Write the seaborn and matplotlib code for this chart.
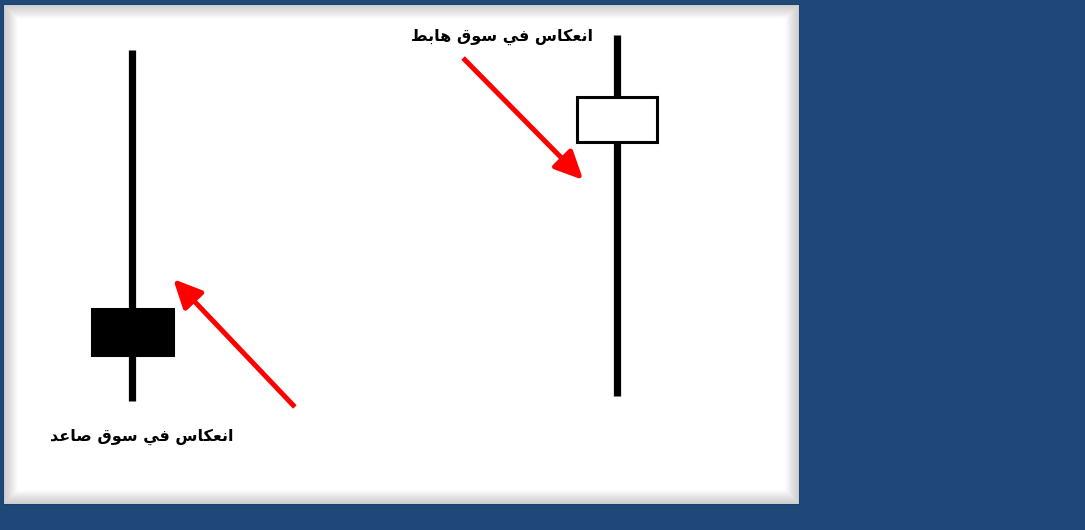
import matplotlib
matplotlib.use("Agg")
import matplotlib.pyplot as plt
import matplotlib.patches as mpatches
import seaborn as sns

# ---- data ----
candles = ["bull_top", "bear_bottom"]
x_pos = [0, 1]
high = [45.4, 46.9]
low = [10.3, 10.8]
open_ = [19.5, 36.2]
close = [14.9, 40.7]

labels = ["انعكاس في سوق صاعد", "انعكاس في سوق هابط"]
label_x = [0.02, 0.763]
label_y = [6.7, 46.7]

arrow_tail_x = [0.335, 0.682]
arrow_tail_y = [9.7, 44.6]
arrow_tip_x = [0.084, 0.930]
arrow_tip_y = [22.5, 32.4]

# ---- simple Arabic shaping (contextual forms + visual order) ----
FORMS = {
    "ا": ("\uFE8D", "\uFE8E", None, None),
    "ب": ("\uFE8F", "\uFE90", "\uFE91", "\uFE92"),
    "د": ("\uFEA9", "\uFEAA", None, None),
    "س": ("\uFEB1", "\uFEB2", "\uFEB3", "\uFEB4"),
    "ص": ("\uFEB9", "\uFEBA", "\uFEBB", "\uFEBC"),
    "ط": ("\uFEC1", "\uFEC2", "\uFEC3", "\uFEC4"),
    "ع": ("\uFEC9", "\uFECA", "\uFECB", "\uFECC"),
    "ف": ("\uFED1", "\uFED2", "\uFED3", "\uFED4"),
    "ق": ("\uFED5", "\uFED6", "\uFED7", "\uFED8"),
    "ك": ("\uFED9", "\uFEDA", "\uFEDB", "\uFEDC"),
    "ن": ("\uFEE5", "\uFEE6", "\uFEE7", "\uFEE8"),
    "ه": ("\uFEE9", "\uFEEA", "\uFEEB", "\uFEEC"),
    "و": ("\uFEED", "\uFEEE", None, None),
    "ي": ("\uFEF1", "\uFEF2", "\uFEF3", "\uFEF4"),
}


def shape(text):
    out = []
    n = len(text)
    for i, ch in enumerate(text):
        if ch not in FORMS:
            out.append(ch)
            continue
        prev = text[i - 1] if i > 0 else None
        nxt = text[i + 1] if i < n - 1 else None
        join_prev = prev in FORMS and FORMS[prev][2] is not None
        join_next = nxt in FORMS and FORMS[ch][2] is not None
        iso, fin, ini, med = FORMS[ch]
        if join_prev and join_next:
            out.append(med)
        elif join_prev:
            out.append(fin)
        elif join_next:
            out.append(ini)
        else:
            out.append(iso)
    return "".join(reversed(out))


# ---- figure ----
sns.set_theme(style="white")
plt.rcParams["font.family"] = ["DejaVu Sans"]

W, H = 1085, 530
fig = plt.figure(figsize=(W / 100, H / 100), dpi=100)
fig.patch.set_facecolor("#1f4878")

px_l, px_t, px_r, px_b = 4, 5, 799, 504
ax = fig.add_axes([px_l / W, (H - px_b) / H, (px_r - px_l) / W, (px_b - px_t) / H])
ax.set_facecolor("white")
ax.set_xlim(-0.265, 1.375)
ax.set_ylim(0, 49.9)
ax.set_xticks([])
ax.set_yticks([])
for s in ax.spines.values():
    s.set_visible(False)

# inner shadow of the white panel
for k in range(14):
    a = 0.11 * (1 - k / 14)
    rect = mpatches.Rectangle((px_l + k, H - px_b + k), (px_r - px_l) - 2 * k, (px_b - px_t) - 2 * k,
                              transform=None, fill=False, edgecolor="black", lw=1.4, alpha=a, zorder=1)
    fig.patches.append(rect)

body_w = 0.166
for i in range(len(candles)):
    ax.vlines(x_pos[i], low[i], high[i], color="black", lw=5.2, zorder=2)
    bottom = min(open_[i], close[i])
    height = abs(close[i] - open_[i])
    bearish = close[i] < open_[i]
    ax.bar(x_pos[i], height, bottom=bottom, width=body_w,
           color="black" if bearish else "white", edgecolor="black",
           linewidth=2.2, zorder=3)

for i in range(len(arrow_tip_x)):
    ax.annotate("", xy=(arrow_tip_x[i], arrow_tip_y[i]),
                xytext=(arrow_tail_x[i], arrow_tail_y[i]),
                arrowprops=dict(arrowstyle="-|>,head_length=0.95,head_width=0.45",
                                mutation_scale=18, lw=3.6, color="#ff0000",
                                capstyle="butt", shrinkA=0, shrinkB=0), zorder=4)

for i in range(len(labels)):
    ax.text(label_x[i], label_y[i], shape(labels[i]), ha="center", va="center",
            fontsize=11.5, fontweight="bold", color="black", zorder=5)

fig.savefig("out.png", dpi=100, facecolor=fig.get_facecolor())
